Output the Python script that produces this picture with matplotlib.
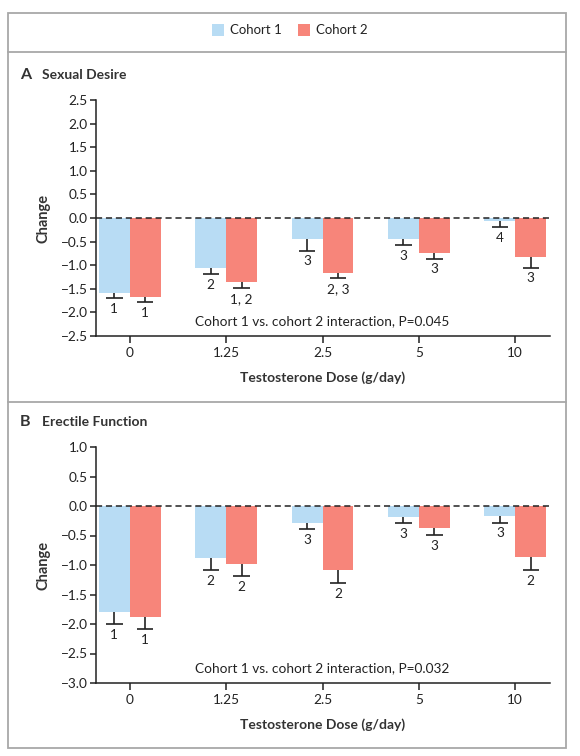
import numpy as np
import matplotlib
matplotlib.use("Agg")
import matplotlib.pyplot as plt
from matplotlib.patches import Rectangle
from matplotlib.lines import Line2D

plt.rcParams['font.family'] = ['Lato', 'DejaVu Sans']

doses = ['0', '1.25', '2.5', '5', '10']

# panel A - sexual desire
a_c1 = [-1.58, -1.05, -0.45, -0.44, -0.06]
a_c1_err = [0.12, 0.13, 0.24, 0.14, 0.13]
a_c2 = [-1.67, -1.36, -1.17, -0.75, -0.83]
a_c2_err = [0.12, 0.12, 0.11, 0.11, 0.22]
a_c1_lab = ['1', '2', '3', '3', '4']
a_c2_lab = ['1', '1, 2', '2, 3', '3', '3']

# panel B - erectile function
b_c1 = [-1.79, -0.88, -0.28, -0.19, -0.17]
b_c1_err = [0.21, 0.21, 0.11, 0.10, 0.11]
b_c2 = [-1.88, -0.98, -1.08, -0.38, -0.87]
b_c2_err = [0.21, 0.21, 0.23, 0.11, 0.22]
b_c1_lab = ['1', '2', '3', '3', '3']
b_c2_lab = ['1', '2', '2', '3', '2']

blue = '#b8dcf4'
red = '#f7857a'
frame = '#a8a8a8'
ink = '#222222'

fig = plt.figure(figsize=(5.8, 7.56), dpi=100)
W, H = 580, 756

def fx(px):
    return px / W

def fy(py):
    return 1 - py / H

# outer box and dividers
fig.add_artist(Rectangle((fx(8), fy(748)), fx(566) - fx(8), fy(13) - fy(748),
                         transform=fig.transFigure, fill=False, ec=frame, lw=1.3))
for yy in [52, 402]:
    fig.add_artist(Line2D([fx(8), fx(566)], [fy(yy), fy(yy)],
                          transform=fig.transFigure, color=frame, lw=1.3))

# legend
fig.add_artist(Rectangle((fx(212), fy(36)), 12 / W, 12 / H, transform=fig.transFigure,
                         color=blue, lw=0))
fig.text(fx(230), fy(30), 'Cohort 1', fontsize=9.5, va='center', ha='left', color=ink)
fig.add_artist(Rectangle((fx(298), fy(36)), 12 / W, 12 / H, transform=fig.transFigure,
                         color=red, lw=0))
fig.text(fx(316), fy(30), 'Cohort 2', fontsize=9.5, va='center', ha='left', color=ink)


def panel(ax, c1, c1e, c2, c2e, l1, l2, ylim, yticks, letter, title, ty, ptxt, py):
    x = np.arange(len(doses))
    w = 0.32
    cap = 0.085
    ax.bar(x - w / 2, c1, w, color=blue, zorder=2)
    ax.bar(x + w / 2, c2, w, color=red, zorder=2)
    for xs, vals, errs, labs in [(x - w / 2, c1, c1e, l1), (x + w / 2, c2, c2e, l2)]:
        lows = np.array(vals) - np.array(errs)
        ax.vlines(xs, lows, vals, color=ink, lw=1.2, zorder=3)
        ax.hlines(lows, xs - cap, xs + cap, color=ink, lw=1.2, zorder=3)
        for xi, lo, t in zip(xs, lows, labs):
            ax.annotate(t, (xi, lo), xytext=(0, -3.5), textcoords='offset points',
                        ha='center', va='top', fontsize=9.8, color=ink)
    ax.axhline(0, color=ink, lw=1.1, ls=(0, (4, 2.5)), zorder=4)
    ax.set_xlim(-0.35, 4.36)
    ax.set_ylim(*ylim)
    ax.set_yticks(yticks)
    ax.set_yticklabels(['{:.1f}'.format(v).replace('-', '\u2212') for v in yticks])
    ax.set_xticks(x)
    ax.set_xticklabels(doses)
    for s in ['top', 'right']:
        ax.spines[s].set_visible(False)
    for s in ['left', 'bottom']:
        ax.spines[s].set_linewidth(1.1)
        ax.spines[s].set_color(ink)
    ax.tick_params(axis='both', labelsize=9.8, colors=ink, width=1.1, length=4)
    ax.tick_params(axis='x', length=5, pad=3)
    ax.tick_params(axis='y', pad=2)
    ax.set_ylabel('Change', fontsize=10.5, fontweight='bold', color='#333333', labelpad=7)
    ax.set_xlabel('Testosterone Dose (g/day)', fontsize=10, fontweight='bold',
                  color='#333333', labelpad=9)
    ax.text(2, py, ptxt, ha='center', va='center', fontsize=9.8, color=ink)
    fig.text(fx(20), fy(ty), letter, fontsize=11.5, fontweight='bold', va='center', color='#333333')
    fig.text(fx(42), fy(ty), title, fontsize=10, fontweight='bold', va='center', color='#333333')


axA = fig.add_axes([fx(96), fy(336), fx(550) - fx(96), fy(100) - fy(336)])
panel(axA, a_c1, a_c1_err, a_c2, a_c2_err, a_c1_lab, a_c2_lab, (-2.5, 2.5),
      np.arange(2.5, -2.51, -0.5), 'A', 'Sexual Desire', 75,
      'Cohort 1 vs. cohort 2 interaction, P=0.045', -2.18)

axB = fig.add_axes([fx(96), fy(683), fx(550) - fx(96), fy(447) - fy(683)])
panel(axB, b_c1, b_c1_err, b_c2, b_c2_err, b_c1_lab, b_c2_lab, (-3.0, 1.0),
      np.arange(1.0, -3.01, -0.5), 'B', 'Erectile Function', 422,
      'Cohort 1 vs. cohort 2 interaction, P=0.032', -2.75)

fig.savefig('out.png', dpi=100)
